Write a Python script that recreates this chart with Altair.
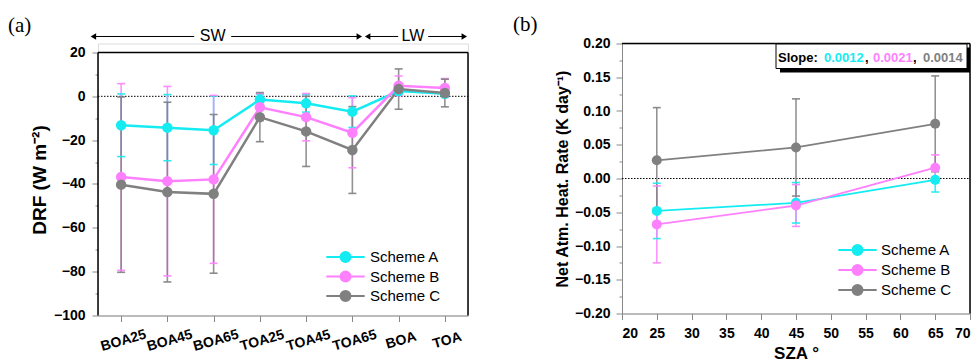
import json
import math
import altair as alt
import pandas as pd

# ---------------- data ----------------
categories = ["BOA25", "BOA45", "BOA65", "TOA25", "TOA45", "TOA65", "BOA", "TOA"]
schemes = ["Scheme A", "Scheme B", "Scheme C"]

drf_a = [-13.2, -14.3, -15.5, -1.5, -3.2, -7.0, 2.4, 1.2]
drf_a_err = [14.3, 15.1, 15.6, 2.5, 4.0, 7.2, 1.3, 1.0]
drf_b = [-36.8, -38.7, -37.9, -5.0, -9.5, -16.6, 4.8, 3.8]
drf_b_err = [42.6, 43.2, 38.3, 6.2, 10.8, 16.0, 4.5, 4.3]
drf_c = [-40.3, -43.7, -44.5, -9.5, -16.0, -24.5, 3.3, 1.5]
drf_c_err = [40.0, 41.0, 36.2, 11.2, 16.0, 19.8, 9.2, 6.3]

sza = [25, 45, 65]
nahr_a = [-0.048, -0.036, -0.002]
nahr_a_err = [0.041, 0.030, 0.018]
nahr_b = [-0.068, -0.040, 0.016]
nahr_b_err = [0.057, 0.031, 0.019]
nahr_c = [0.027, 0.046, 0.081]
nahr_c_err = [0.078, 0.072, 0.071]

slopes = ["0.0012", "0.0021", "0.0014"]

colors = ["#14ECF2", "#FF80FF", "#808080"]
FONT = "Liberation Sans"

# legend glyph: thin bar (line) + filled polygonal circle, drawn with fill only
_circ = "M" + "L".join(f"{math.cos(a * math.pi / 8):.3f},{math.sin(a * math.pi / 8):.3f}"
                       for a in range(16)) + "Z"
SYM = "M-3.2,-0.17L3.2,-0.17L3.2,0.17L-3.2,0.17Z" + _circ


def long_df(xvals, vals_list, errs_list, xname):
    rows = []
    for s, vals, errs in zip(schemes, vals_list, errs_list):
        for x, v, e in zip(xvals, vals, errs):
            rows.append({xname: x, "scheme": s, "val": v, "lo": v - e, "hi": v + e})
    return pd.DataFrame(rows)


left_df = long_df(list(range(len(categories))), [drf_a, drf_b, drf_c],
                  [drf_a_err, drf_b_err, drf_c_err], "idx")
right_df = long_df(sza, [nahr_a, nahr_b, nahr_c],
                   [nahr_a_err, nahr_b_err, nahr_c_err], "sza")

cscale = alt.Scale(domain=schemes, range=colors)


def legend(lx, ly, loff, rowpad):
    return alt.Legend(orient="none", legendX=lx, legendY=ly, title=None,
                      symbolType=SYM, symbolSize=144, symbolStrokeWidth=0,
                      symbolOpacity=1, labelFontSize=15, labelFont=FONT,
                      labelFontWeight="normal", labelColor="black", labelOffset=loff,
                      rowPadding=rowpad)


def series_layers(df, xenc, yscale, yaxis, lg, line_w, cap_w, pt_size):
    base = alt.Chart(df)
    st = alt.Stroke("scheme:N", scale=cscale, legend=None)
    fl = alt.Fill("scheme:N", scale=cscale, legend=None)
    bars = base.mark_rule(strokeWidth=1.6, opacity=0.85).encode(
        x=xenc, y=alt.Y("lo:Q", scale=yscale, axis=yaxis), y2="hi:Q", stroke=st)
    cap_lo = base.mark_tick(orient="horizontal", size=cap_w, thickness=1.6, opacity=0.9).encode(
        x=xenc, y=alt.Y("lo:Q", scale=yscale, axis=yaxis), fill=fl)
    cap_hi = base.mark_tick(orient="horizontal", size=cap_w, thickness=1.6, opacity=0.9).encode(
        x=xenc, y=alt.Y("hi:Q", scale=yscale, axis=yaxis), fill=fl)
    lines = base.mark_line(strokeWidth=line_w).encode(
        x=xenc, y=alt.Y("val:Q", scale=yscale, axis=yaxis), stroke=st)
    pts = base.mark_point(filled=True, size=pt_size, opacity=1).encode(
        x=xenc, y=alt.Y("val:Q", scale=yscale, axis=yaxis),
        color=alt.Color("scheme:N", scale=cscale, legend=lg))
    return [bars, cap_lo, cap_hi, lines, pts]


def hrule(x1, x2, y, w=1.5, dash=None):
    kw = {"strokeDash": dash} if dash else {}
    return alt.Chart().mark_rule(color="black", strokeWidth=w, **kw).encode(
        x=alt.value(x1), x2=alt.value(x2), y=alt.value(y))


def vrule(x, y1, y2, w=1.5):
    return alt.Chart().mark_rule(color="black", strokeWidth=w).encode(
        x=alt.value(x), y=alt.value(y1), y2=alt.value(y2))


# ---------------- left panel ----------------
W_L, H_L = 370, 272
label_arr = json.dumps(categories)
x_lo, x_hi = -0.5, len(categories) - 0.5
yL_min, yL_max, yL_top = -100, 20, 24.1   # extra headroom hidden above the frame


def pxL(i):
    return (i - x_lo) / (x_hi - x_lo) * W_L


def pyL(v):
    return (yL_top - v) / (yL_top - yL_min) * H_L


xL = alt.X("idx:Q", title=None,
           scale=alt.Scale(domain=[x_lo, x_hi], nice=False, zero=False),
           axis=alt.Axis(values=list(range(len(categories))),
                         labelExpr=f"{label_arr}[datum.value]", labelOverlap=False,
                         labelAngle=344, labelAlign="center", labelBaseline="top",
                         labelPadding=12, labelFontSize=14, labelFontWeight="bold",
                         tickSize=6, grid=False))
yscaleL = alt.Scale(domain=[yL_min, yL_top], nice=False, zero=False)
yaxisL = alt.Axis(values=list(range(-100, 21, 10)), domain=False, grid=False,
                  labelExpr="datum.value % 20 == 0 ? datum.label : ''",
                  tickSize={"condition": {"test": "datum.value % 20 == 0", "value": 6}, "value": 3},
                  labelFontSize=14, labelFontWeight="bold", labelPadding=7,
                  title="DRF (W m⁻²)", titleFontSize=19, titlePadding=4)

layersL = series_layers(left_df, xL, yscaleL, yaxisL, legend(240, 206, 17, 3.5), 2.5, 8, 110)


def head(shape, x, y):
    return alt.Chart().mark_point(shape=shape, filled=True, size=40, color="black",
                                  opacity=1).encode(x=alt.value(x), y=alt.value(y))


arrow_y = pyL(27.3)
ann_L = [
    hrule(0, W_L, pyL(0), w=1, dash=[1.5, 1.5]),
    vrule(0, pyL(yL_min), pyL(yL_max)),
    vrule(W_L, pyL(yL_min), pyL(yL_max)),
    hrule(0, W_L, pyL(yL_max)),
    hrule(pxL(-0.62), pxL(1.58), arrow_y, w=1), hrule(pxL(2.38), pxL(5.15), arrow_y, w=1),
    hrule(pxL(5.33), pxL(5.99), arrow_y, w=1), hrule(pxL(6.64), pxL(7.45), arrow_y, w=1),
    head("triangle-left", pxL(-0.6), arrow_y), head("triangle-right", pxL(5.15), arrow_y),
    head("triangle-left", pxL(5.33), arrow_y), head("triangle-right", pxL(7.42), arrow_y),
    alt.Chart().mark_text(text="SW", font=FONT, fontSize=16, baseline="middle").encode(
        x=alt.value(pxL(1.98)), y=alt.value(arrow_y)),
    alt.Chart().mark_text(text="LW", font=FONT, fontSize=16, baseline="middle").encode(
        x=alt.value(pxL(6.31)), y=alt.value(arrow_y)),
    alt.Chart().mark_text(text="(a)", font="Liberation Serif", fontSize=21, align="left",
                          baseline="middle").encode(x=alt.value(-90), y=alt.value(-17.5)),
]

left = alt.layer(*ann_L[:1], *layersL, *ann_L[1:]).properties(width=W_L, height=H_L)

# ---------------- right panel ----------------
W_R, H_R = 348, 270
xR_min, xR_max = 20, 70
yR_min, yR_max = -0.2, 0.2
xR = alt.X("sza:Q", title="SZA °",
           scale=alt.Scale(domain=[xR_min, xR_max], nice=False, zero=False),
           axis=alt.Axis(values=list(range(20, 71, 5)), labelFontSize=14, labelFontWeight="bold",
                         labelOverlap=False, grid=False,
                         labelPadding=7, tickSize=6, titleFontSize=17, titlePadding=5))
yscaleR = alt.Scale(domain=[yR_min, yR_max], nice=False, zero=False)
minorR = [round(-0.2 + 0.025 * i, 3) for i in range(17)]
major_test = "abs(datum.value / 0.05 - round(datum.value / 0.05)) < 0.001"
yaxisR = alt.Axis(values=minorR, format=".2f", grid=False,
                  labelExpr=f"{major_test} ? datum.label : ''",
                  tickSize={"condition": {"test": major_test, "value": 6}, "value": 3},
                  labelFontSize=14, labelFontWeight="bold", labelPadding=6,
                  title="Net Atm. Heat. Rate (K day⁻¹)", titleFontSize=16, titlePadding=4)

layersR = series_layers(right_df, xR, yscaleR, yaxisR, legend(228, 199, 16, 4), 1.8, 8, 100)


def pyR(v):
    return (yR_max - v) / (yR_max - yR_min) * H_R


slope_parts = [("Slope:", "black", 156), (slopes[0], colors[0], 202), (",", "black", 243),
               (slopes[1], colors[1], 251), (",", "black", 291), (slopes[2], colors[2], 301)]
ann_R = [
    hrule(0, W_R, pyR(0), w=1, dash=[1.5, 1.5]),
    vrule(W_R, 0, H_R),
    hrule(0, W_R, 0),
    alt.Chart().mark_rect(color="black").encode(x=alt.value(158), x2=alt.value(348), y=alt.value(4), y2=alt.value(29)),
    alt.Chart().mark_rect(color="white", stroke="black", strokeWidth=1).encode(x=alt.value(154), x2=alt.value(345), y=alt.value(0.5), y2=alt.value(25)),
]
for txt, col, px in slope_parts:
    ann_R.append(alt.Chart().mark_text(text=txt, color=col, font=FONT, fontSize=13, fontWeight="bold",
                                       align="left", baseline="middle").encode(x=alt.value(px), y=alt.value(14)))
ann_R.append(alt.Chart().mark_text(text="(b)", font="Liberation Serif", fontSize=21, align="left",
                                   baseline="middle").encode(x=alt.value(-109), y=alt.value(-19)))

right = alt.layer(*ann_R[:1], *layersR, *ann_R[1:]).properties(width=W_R, height=H_R)

chart = alt.hconcat(left, right, spacing=42).resolve_scale(
    color="independent"
).resolve_legend(color="independent").properties(
    padding={"left": 7, "top": 12.5, "right": 0, "bottom": 0}
).configure_view(stroke=None).configure_axis(
    domainColor="black", domainWidth=1.5, tickColor="black", tickWidth=1.5, grid=False,
    labelFont=FONT, labelFontWeight="bold", labelColor="black",
    titleFont=FONT, titleFontWeight="bold", titleColor="black"
).configure(background="white")

chart.save("out.html", embed_options={"renderer": "svg", "actions": False})
